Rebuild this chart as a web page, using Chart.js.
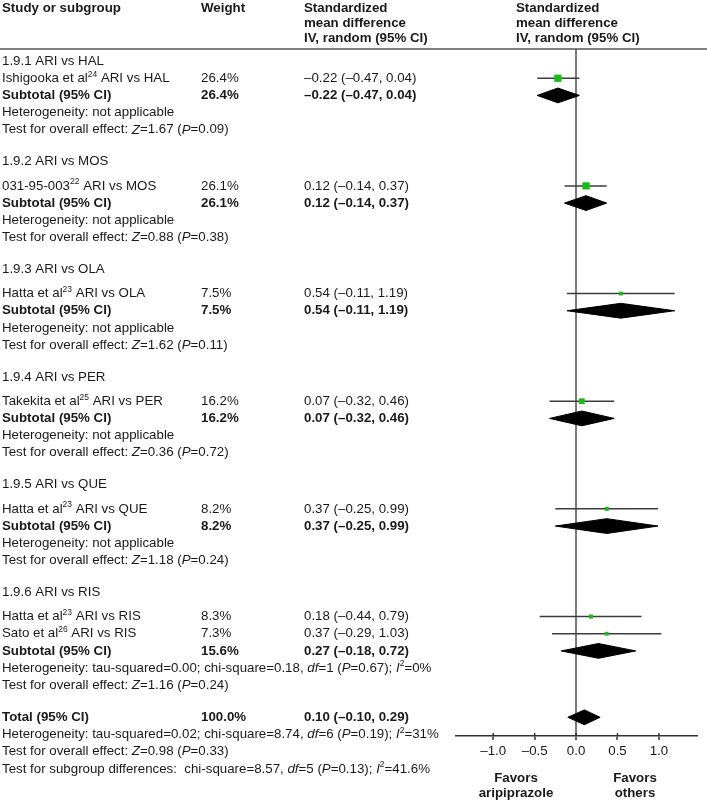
<!DOCTYPE html>
<html>
<head>
<meta charset="utf-8">
<script src="https://cdn.jsdelivr.net/npm/chart.js@4.4.1/dist/chart.umd.min.js"></script>
<style>
  html, body { margin: 0; padding: 0; background: #fff; }
  canvas { display: block; }
</style>
</head>
<body>
<canvas id="forest" width="707" height="800"></canvas>
<script>
// subgroups
let groupLabels = ['1.9.1 ARI vs HAL', '1.9.2 ARI vs MOS', '1.9.3 ARI vs OLA', '1.9.4 ARI vs PER', '1.9.5 ARI vs QUE', '1.9.6 ARI vs RIS'];

// single studies
let studyAuthors = ['Ishigooka et al', '031-95-003', 'Hatta et al', 'Takekita et al', 'Hatta et al', 'Hatta et al', 'Sato et al'];
let studyRefs = ['24', '22', '23', '25', '23', '23', '26'];
let studyComparators = ['HAL', 'MOS', 'OLA', 'PER', 'QUE', 'RIS', 'RIS'];
let studyGroup = [0, 1, 2, 3, 4, 5, 5];
let studyWeight = [26.4, 26.1, 7.5, 16.2, 8.2, 8.3, 7.3];
let studyEst = [-0.22, 0.12, 0.54, 0.07, 0.37, 0.18, 0.37];
let studyLow = [-0.47, -0.14, -0.11, -0.32, -0.25, -0.44, -0.29];
let studyHigh = [0.04, 0.37, 1.19, 0.46, 0.99, 0.79, 1.03];

// subtotals
let subWeight = [26.4, 26.1, 7.5, 16.2, 8.2, 15.6];
let subEst = [-0.22, 0.12, 0.54, 0.07, 0.37, 0.27];
let subLow = [-0.47, -0.14, -0.11, -0.32, -0.25, -0.18];
let subHigh = [0.04, 0.37, 1.19, 0.46, 0.99, 0.72];
let subZ = [1.67, 0.88, 1.62, 0.36, 1.18, 1.16];
let subP = [0.09, 0.38, 0.11, 0.72, 0.24, 0.24];
let ris6Het = [0.00, 0.18, 1, 0.67, 0];   // tau2, chi2, df, P, I2

// total
let totalWeight = 100.0;
let totalEst = 0.10;
let totalLow = -0.10;
let totalHigh = 0.29;
let totalHet = [0.02, 8.74, 6, 0.19, 31];
let totalZ = 0.98;
let totalP = 0.33;
let subgroupDiff = [8.57, 5, 0.13, 41.6];  // chi2, df, P, I2

let tickValues = [-1, -0.5, 0, 0.5, 1];

const FONT = '"Liberation Sans", Arial, sans-serif';
const FS = 13.3;
const GREEN = '#12c012';

let fmt2 = v => (v < 0 ? '–' : '') + Math.abs(v).toFixed(2);
let ci = (e, l, h) => fmt2(e) + ' (' + fmt2(l) + ', ' + fmt2(h) + ')';

let testLine = (z, p) => [['Test for overall effect: '], ['Z', 'i'], ['=' + z.toFixed(2) + ' ('], ['P', 'i'], ['=' + p.toFixed(2) + ')']];
let hetLine = h => [['Heterogeneity: tau-squared=' + h[0].toFixed(2) + '; chi-square=' + h[1].toFixed(2) + ', '], ['df', 'i'], ['=' + h[2] + ' ('], ['P', 'i'], ['=' + h[3].toFixed(2) + '); '], ['I', 'i'], ['2', 's'], ['=' + h[4] + '%']];

// row layout (in line units)
let rows = [];
let markRows = { study: [], sub: [], total: 0 };
let cur = 0.7;
groupLabels.forEach((g, gi) => {
    rows.push({ y: cur, cells: [[[g]]] });
    cur += gi === 0 ? 1 : 1.4;
    studyAuthors.forEach((a, i) => {
        if (studyGroup[i] !== gi) return;
        rows.push({ y: cur, cells: [[[a], [studyRefs[i], 's'], [' ARI vs ' + studyComparators[i]]], [[studyWeight[i].toFixed(1) + '%']], [[ci(studyEst[i], studyLow[i], studyHigh[i])]]] });
        markRows.study[i] = cur;
        cur += 1;
    });
    rows.push({ y: cur, cells: [[['Subtotal (95% CI)', 'b']], [[subWeight[gi].toFixed(1) + '%', 'b']], [[ci(subEst[gi], subLow[gi], subHigh[gi]), 'b']]] });
    markRows.sub[gi] = cur;
    cur += 1;
    rows.push({ y: cur, cells: [gi === 5 ? hetLine(ris6Het) : [['Heterogeneity: not applicable']]] });
    cur += 1;
    rows.push({ y: cur, cells: [testLine(subZ[gi], subP[gi])] });
    cur += 1.86;
});
rows.push({ y: cur, cells: [[['Total (95% CI)', 'b']], [[totalWeight.toFixed(1) + '%', 'b']], [[ci(totalEst, totalLow, totalHigh), 'b']]] });
markRows.total = cur;
rows.push({ y: cur + 1, cells: [hetLine(totalHet)] });
rows.push({ y: cur + 2, cells: [testLine(totalZ, totalP)] });
rows.push({ y: cur + 3, cells: [[['Test for subgroup differences:  chi-square=' + subgroupDiff[0].toFixed(2) + ', '], ['df', 'i'], ['=' + subgroupDiff[1] + ' ('], ['P', 'i'], ['=' + subgroupDiff[2].toFixed(2) + '); '], ['I', 'i'], ['2', 's'], ['=' + subgroupDiff[3].toFixed(1) + '%']]] });

const DH = 0.43; // diamond half height

let datasets = [];
datasets.push({
    data: studyEst.map((e, i) => ({ x: e, y: markRows.study[i] })),
    pointStyle: 'rect',
    pointRadius: studyWeight.map(w => Math.sqrt(w)),
    backgroundColor: GREEN,
    borderWidth: 0,
    order: 0
});
studyEst.forEach((e, i) => {
    datasets.push({
        data: [{ x: studyLow[i], y: markRows.study[i] }, { x: studyHigh[i], y: markRows.study[i] }],
        showLine: true, pointRadius: 0, borderColor: '#3c3c3c', borderWidth: 1.5, order: 2
    });
});
let diamond = (e, l, h, y) => ({
    data: [{ x: l, y: y }, { x: e, y: y - DH }, { x: h, y: y }, { x: e, y: y + DH }, { x: l, y: y }],
    showLine: true, pointRadius: 0, tension: 0, fill: 'shape',
    borderColor: '#000', backgroundColor: '#000', borderWidth: 1, order: 1
});
subEst.forEach((e, gi) => datasets.push(diamond(e, subLow[gi], subHigh[gi], markRows.sub[gi])));
datasets.push(diamond(totalEst, totalLow, totalHigh, markRows.total));

function fontFor(st) {
    if (st === 'b') return 'bold ' + FS + 'px ' + FONT;
    if (st === 'i') return 'italic ' + FS + 'px ' + FONT;
    if (st === 's') return '8.5px ' + FONT;
    return FS + 'px ' + FONT;
}

function drawRich(ctx, segs, x, y) {
    segs.forEach(s => {
        ctx.font = fontFor(s[1]);
        ctx.fillText(s[0], x, s[1] === 's' ? y - 4 : y);
        x += ctx.measureText(s[0]).width;
    });
}

const colX = [2, 201, 304];

let textPlugin = {
    id: 'forestText',
    afterDraw(chart) {
        let ctx = chart.ctx;
        let ys = chart.scales.y;
        let xs = chart.scales.x;
        ctx.save();
        ctx.fillStyle = '#1a1a1a';
        ctx.textBaseline = 'middle';
        ctx.textAlign = 'left';

        // header
        ctx.font = 'bold ' + FS + 'px ' + FONT;
        ctx.fillText('Study or subgroup', colX[0], 8);
        ctx.fillText('Weight', colX[1], 8);
        ['Standardized', 'mean difference', 'IV, random (95% CI)'].forEach((t, k) => {
            ctx.fillText(t, colX[2], 8 + k * 15);
            ctx.fillText(t, 516, 8 + k * 15);
        });
        ctx.strokeStyle = '#555';
        ctx.lineWidth = 1.5;
        ctx.beginPath();
        ctx.moveTo(0, chart.chartArea.top);
        ctx.lineTo(707, chart.chartArea.top);
        ctx.stroke();

        rows.forEach(r => {
            let py = ys.getPixelForValue(r.y);
            r.cells.forEach((c, k) => drawRich(ctx, c, colX[k], py));
        });

        // tick stubs above the axis
        ctx.strokeStyle = '#333';
        ctx.lineWidth = 1.5;
        let b = chart.chartArea.bottom;
        tickValues.forEach(v => {
            let px = xs.getPixelForValue(v);
            ctx.beginPath();
            ctx.moveTo(px, b - 3);
            ctx.lineTo(px, b);
            ctx.stroke();
        });

        ctx.font = 'bold ' + FS + 'px ' + FONT;
        ctx.textAlign = 'center';
        ctx.fillText('Favors', 516, 778);
        ctx.fillText('aripiprazole', 516, 793);
        ctx.fillText('Favors', 635, 778);
        ctx.fillText('others', 635, 793);
        ctx.restore();
    }
};

new Chart(document.getElementById('forest'), {
    type: 'scatter',
    data: { datasets: datasets },
    options: {
        responsive: false,
        animation: false,
        layout: { padding: { left: 456, right: 10, top: 49, bottom: 38 } },
        plugins: { legend: { display: false }, tooltip: { enabled: false } },
        scales: {
            x: {
                type: 'linear',
                min: -1.45,
                max: 1.46,
                afterBuildTicks: s => { s.ticks = tickValues.map(v => ({ value: v })); },
                ticks: {
                    callback: v => (v < 0 ? '–' : '') + Math.abs(v).toFixed(1),
                    font: { family: FONT, size: FS },
                    color: '#1a1a1a',
                    padding: 3,
                    maxRotation: 0
                },
                grid: {
                    color: c => c.tick && c.tick.value === 0 ? '#7a7a7a' : 'rgba(0,0,0,0)',
                    lineWidth: 2,
                    drawTicks: true,
                    tickLength: 4,
                    tickColor: '#333',
                    tickWidth: 1.5
                },
                border: { display: true, color: '#333', width: 1.5 }
            },
            y: {
                type: 'linear',
                reverse: true,
                min: 0,
                max: 39.95,
                display: false
            }
        }
    },
    plugins: [textPlugin]
});
</script>
</body>
</html>
